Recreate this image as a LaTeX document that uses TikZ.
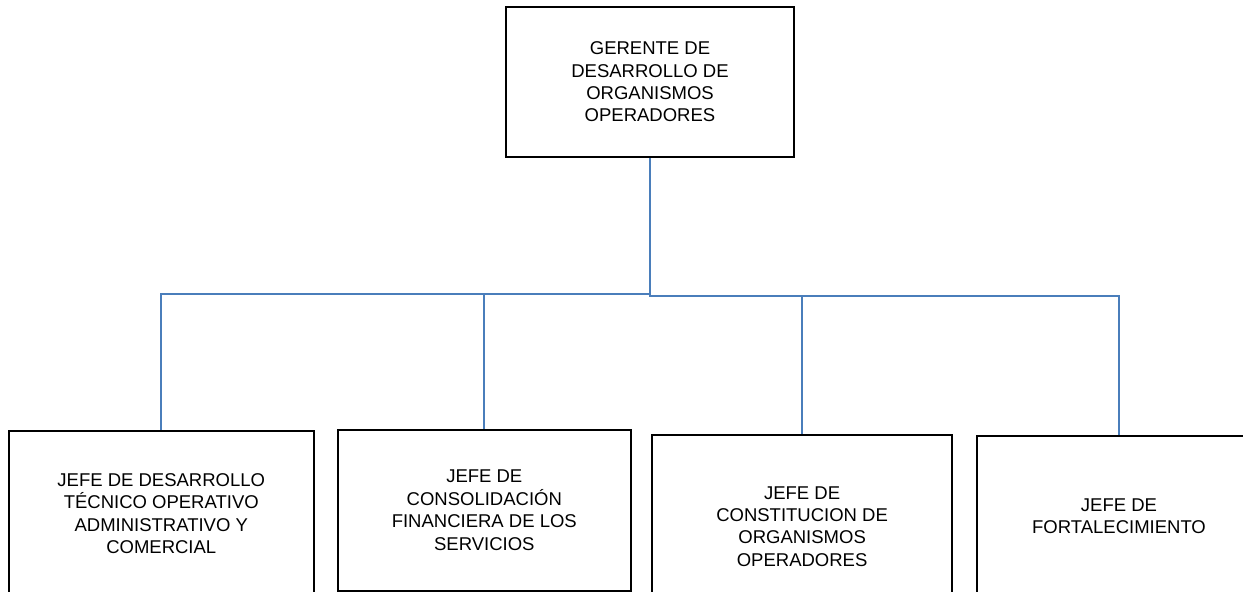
\documentclass[tikz,border=0pt]{standalone}
\usepackage{fontspec}
\setmainfont{Liberation Sans}
\definecolor{linkblue}{RGB}{74,126,187}
\begin{document}
\begin{tikzpicture}[x=1pt,y=-1pt,
  orgbox/.style={draw=black,line width=2pt,align=center,inner sep=0pt,
    font=\fontsize{18.5}{22.4}\selectfont},
  link/.style={draw=linkblue,line width=1.8pt}]
\clip (0,0) rectangle (1243,592);
\fill[white] (0,0) rectangle (1243,592);
\node[orgbox,minimum width=288pt,minimum height=150pt] (top) at (650,82)
  {GERENTE DE\\DESARROLLO DE\\ORGANISMOS\\OPERADORES};
\node[orgbox,minimum width=304.5pt,minimum height=165pt] (b1) at (161.25,513.5)
  {JEFE DE DESARROLLO\\TÉCNICO OPERATIVO\\ADMINISTRATIVO Y\\COMERCIAL};
\node[orgbox,minimum width=292.6pt,minimum height=160.7pt] (b2) at (484.3,510.3)
  {JEFE DE\\CONSOLIDACIÓN\\FINANCIERA DE LOS\\SERVICIOS};
\node[orgbox,minimum width=300.7pt,minimum height=183pt] (b3) at (802.1,526.5)
  {JEFE DE\\CONSTITUCION DE\\ORGANISMOS\\OPERADORES};
\node[orgbox,minimum width=284pt,minimum height=160pt] (b4) at (1119,516)
  {JEFE DE\\FORTALECIMIENTO};
\coordinate (jL) at (650,294);
\coordinate (jR) at (650,296);
\draw[link] (top.south) -- (jL) -| (b1.north);
\draw[link] (jL) -| (b2.north);
\draw[link] (jL) -- (jR) -| (b3.north);
\draw[link] (jR) -| (b4.north);
\end{tikzpicture}
\end{document}
